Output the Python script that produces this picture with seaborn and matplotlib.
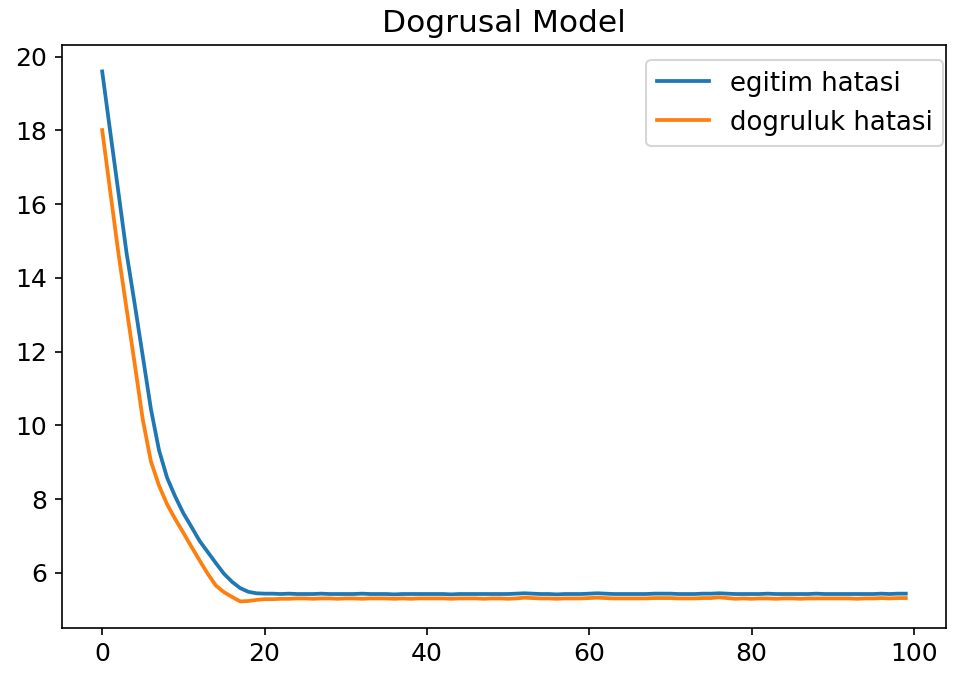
import pandas as pd
import matplotlib
matplotlib.use("Agg")
import matplotlib.pyplot as plt
import seaborn as sns

# epoch values
egitim_hatasi = [
    19.60, 17.95, 16.32, 14.68, 13.30, 11.88, 10.45, 9.33, 8.58, 8.07,
    7.62, 7.25, 6.87, 6.57, 6.27, 5.98, 5.76, 5.59, 5.49, 5.45,
    5.44, 5.44, 5.43, 5.44, 5.43, 5.43, 5.43, 5.44, 5.43, 5.43,
    5.43, 5.43, 5.44, 5.43, 5.43, 5.43, 5.42, 5.43, 5.43, 5.43,
    5.43, 5.43, 5.43, 5.42, 5.43, 5.43, 5.43, 5.43, 5.43, 5.43,
    5.43, 5.44, 5.45, 5.44, 5.43, 5.43, 5.42, 5.43, 5.43, 5.43,
    5.44, 5.45, 5.44, 5.43, 5.43, 5.43, 5.43, 5.43, 5.44, 5.44,
    5.44, 5.43, 5.43, 5.43, 5.44, 5.44, 5.45, 5.44, 5.43, 5.43,
    5.43, 5.43, 5.44, 5.43, 5.43, 5.43, 5.43, 5.43, 5.44, 5.43,
    5.43, 5.43, 5.43, 5.43, 5.43, 5.43, 5.44, 5.43, 5.44, 5.44,
]
dogruluk_hatasi = [
    18.01, 16.33, 14.67, 13.17, 11.68, 10.16, 9.03, 8.37, 7.86, 7.46,
    7.09, 6.71, 6.34, 5.98, 5.66, 5.48, 5.35, 5.23, 5.24, 5.27,
    5.29, 5.29, 5.30, 5.30, 5.31, 5.31, 5.30, 5.31, 5.31, 5.30,
    5.31, 5.31, 5.30, 5.31, 5.31, 5.31, 5.30, 5.31, 5.30, 5.31,
    5.31, 5.31, 5.31, 5.30, 5.31, 5.31, 5.31, 5.30, 5.31, 5.31,
    5.30, 5.31, 5.33, 5.32, 5.31, 5.31, 5.30, 5.31, 5.31, 5.31,
    5.32, 5.33, 5.32, 5.31, 5.31, 5.31, 5.31, 5.31, 5.32, 5.32,
    5.32, 5.31, 5.31, 5.31, 5.32, 5.32, 5.34, 5.32, 5.30, 5.31,
    5.30, 5.31, 5.31, 5.30, 5.31, 5.31, 5.30, 5.31, 5.31, 5.31,
    5.31, 5.31, 5.31, 5.30, 5.31, 5.31, 5.32, 5.31, 5.32, 5.32,
]
epoch = list(range(len(egitim_hatasi)))

df = pd.DataFrame({"epoch": epoch,
                   "egitim hatasi": egitim_hatasi,
                   "dogruluk hatasi": dogruluk_hatasi})

fig, ax = plt.subplots(figsize=(954 / 150, 681 / 150), dpi=150)
sns.lineplot(data=df, x="epoch", y="egitim hatasi", color="#1f77b4", linewidth=1.8,
             label="egitim hatasi", ax=ax)
sns.lineplot(data=df, x="epoch", y="dogruluk hatasi", color="#ff7f0e", linewidth=1.8,
             label="dogruluk hatasi", ax=ax)

ax.set_title("Dogrusal Model", fontsize=15)
ax.set_xlabel("")
ax.set_ylabel("")
ax.set_xticks([0, 20, 40, 60, 80, 100])
ax.set_yticks([6, 8, 10, 12, 14, 16, 18, 20])
ax.tick_params(labelsize=12)
ax.legend(loc="upper right", fontsize=12.5, bbox_to_anchor=(0.9966, 0.974),
          borderaxespad=0)

fig.subplots_adjust(left=0.065, right=0.9916, bottom=0.078, top=0.934)
fig.savefig("out.png", dpi=150)
